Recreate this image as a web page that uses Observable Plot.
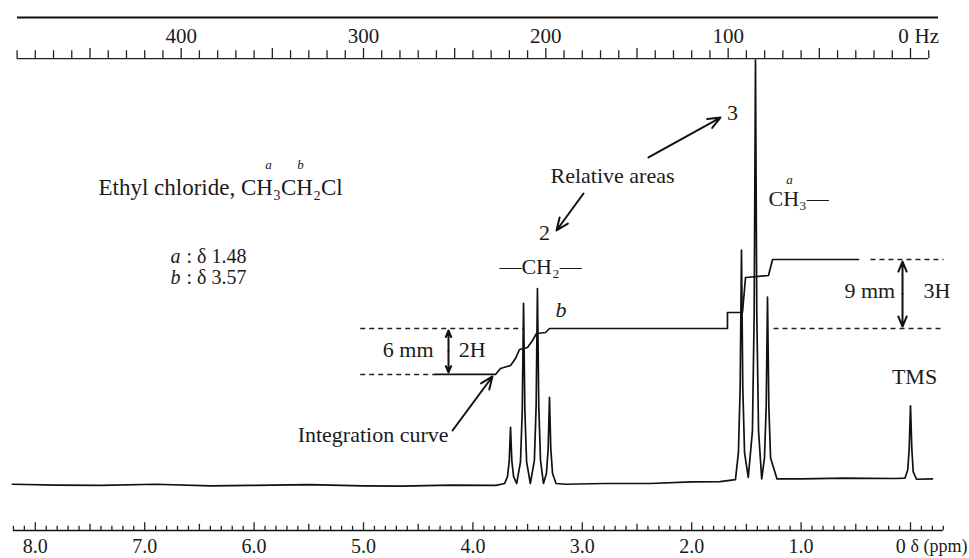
<!DOCTYPE html>
<html><head><meta charset="utf-8">
<script src="https://cdn.jsdelivr.net/npm/d3@7"></script>
<script src="https://cdn.jsdelivr.net/npm/@observablehq/plot@0.6"></script>
<style>body{margin:0;background:#fff}svg{display:block}</style>
</head><body><div id="chart"></div>
<script>
// ---- data (x in ppm, y in chart-mm above baseline) ----
const trace = [
  [8.21,-0.1],[7.8,-0.2],[7.4,-0.25],[6.9,-0.1],[6.4,-0.3],[6.03,-0.25],[5.5,-0.15],[5.0,-0.3],[4.66,-0.35],[4.2,-0.2],[3.79,-0.25],
  [3.71,0],[3.684,0.9],[3.668,2.9],[3.656,7.3],[3.644,2.9],[3.628,0.9],[3.60,0],
  [3.565,2.8],[3.549,9.4],[3.537,23.4],[3.525,9.4],[3.509,2.8],[3.475,0],
  [3.438,3.0],[3.422,10.1],[3.41,25.3],[3.398,10.1],[3.382,3.0],[3.355,0],
  [3.328,1.3],[3.312,4.5],[3.30,11.2],[3.288,4.5],[3.272,1.3],[3.24,0],
  [3.15,-0.1],[2.8,0.0],[2.38,0.0],[2.0,0.2],[1.74,0.25],[1.60,0.5],
  [1.573,4.0],[1.557,12.5],[1.545,30.3],[1.533,12.5],[1.517,4.0],[1.483,0.8],
  [1.445,6.8],[1.429,22.0],[1.417,55.0],[1.405,22.0],[1.389,6.8],[1.36,0.6],
  [1.335,3.3],[1.319,10.0],[1.307,24.2],[1.295,10.0],[1.279,3.3],[1.22,0.6],
  [1.0,0.6],[0.6,0.7],[0.14,0.65],
  [0.05,0.7],[0.025,1.8],[0.012,4.5],[0.0,10.1],[-0.012,4.5],[-0.025,1.5],[-0.055,0.55],[-0.20,0.6]
];
const integral = [
  [4.342,14.16],[3.793,14.16],[3.748,14.94],[3.656,15.32],[3.611,16.23],[3.574,17.40],[3.501,17.66],
  [3.455,18.57],[3.419,19.48],[3.336,19.61],[3.300,20.13],[1.673,20.13],[1.673,22.21],[1.536,22.21],
  [1.508,26.75],[1.298,27.01],[1.261,29.09],[0.475,29.09]
];
const guideFrom = [5.03, 5.03, 1.252, 0.366];
const guideTo   = [3.537, 4.342, -0.302, -0.302];
const guideLevel = [20.13, 14.16, 20.13, 29.09];
const hzLabels = [400, 300, 200, 100];
const ppmLabels = [8, 7, 6, 5, 4, 3, 2, 1];
const MHZ = 60;

// ---- scales: ppm -> px, mm -> px ----
const W = 969, H = 558;
const xs = {type: "linear", domain: [910 / 109.4, -59 / 109.4], range: [0, W], axis: null};
const ys = {type: "linear", domain: [-75 / 7.7, 483 / 7.7], range: [H, 0], axis: null};

const hzTicks = d3.range(-10, 491, 10);
const ppmTicks = d3.range(-3, 83).map(d => d / 10);
const F = "Liberation Serif, DejaVu Serif, serif";
const T = {fontFamily: F, fontSize: 22, fill: "#1b1b1b"};
const L = {fontFamily: F, fontSize: 23, fill: "#1b1b1b"};
const A = {fontFamily: F, fontSize: 21, fill: "#1b1b1b"};

const guides = guideLevel.map((v, i) => ({x1: guideFrom[i], x2: guideTo[i], y: v}));

const plot = Plot.plot({
  width: W, height: H, margin: 0,
  x: xs, y: ys,
  marks: [
    // top Hz ruler
    Plot.ruleY([60.52], {x1: 8.163, x2: -0.256, strokeWidth: 2.2, stroke: "#111"}),
    Plot.ruleY([55.19], {x1: 490 / MHZ, x2: -10 / MHZ, strokeWidth: 1.3, stroke: "#222"}),
    Plot.ruleX(hzTicks, {x: d => d / MHZ, y1: 55.19, y2: d => d % 50 === 0 ? 56.5 : 56.2, strokeWidth: 1.3, stroke: "#222"}),
    Plot.text(hzLabels, {x: d => d / MHZ, y: 58.1, text: d => String(d), ...A}),
    Plot.text([0], {x: 0.064, y: 58.1, text: d => "0", ...A}),
    Plot.text(["Hz"], {x: -0.037, y: 58.1, text: d => d, textAnchor: "start", ...A}),
    // bottom ppm ruler
    Plot.ruleY([-6.104], {x1: 8.2, x2: -0.3, strokeWidth: 1.6, stroke: "#111"}),
    Plot.ruleX(ppmTicks, {x: d => d, y1: -6.104, y2: d => Math.abs(d * 10 % 10) < 1e-6 ? -5.1 : (Math.abs(d * 10 % 5) < 1e-6 ? -5.3 : -5.55), strokeWidth: 1.3, stroke: "#222"}),
    Plot.text(ppmLabels, {x: d => d, y: -8.15, text: d => d.toFixed(1), ...A, fontSize: 20}),
    Plot.text([0], {x: 0.09, y: -8.15, text: d => "0", ...A, fontSize: 20}),
    Plot.text(["δ (ppm)"], {x: 0.0, y: -8.15, text: d => d, textAnchor: "start", ...A, fontSize: 18}),
    // guides
    Plot.link(guides, {x1: "x1", x2: "x2", y1: "y", y2: "y", stroke: "#222", strokeWidth: 1.4, strokeDasharray: "5,4"}),
    // spectrum & integral
    Plot.line(trace, {x: d => d[0], y: d => d[1], stroke: "#111", strokeWidth: 1.7, curve: "linear"}),
    Plot.line(integral, {x: d => d[0], y: d => d[1], stroke: "#111", strokeWidth: 1.7}),
    // arrows
    Plot.arrow([
      {x1: 2.395, y1: 42.34, x2: 1.737, y2: 47.53},
      {x1: 2.989, y1: 37.66, x2: 3.236, y2: 32.86},
      {x1: 4.186, y1: 6.88, x2: 3.821, y2: 13.9},
      {x1: 4.223, y1: 17.1, x2: 4.223, y2: 19.87},
      {x1: 4.223, y1: 17.1, x2: 4.223, y2: 14.42},
      {x1: 0.073, y1: 24.6, x2: 0.073, y2: 28.83},
      {x1: 0.073, y1: 24.6, x2: 0.073, y2: 20.39}
    ], {x1: "x1", y1: "y1", x2: "x2", y2: "y2", stroke: "#111", strokeWidth: 2, headLength: 10, headAngle: 45}),
    // annotations
    Plot.text(["Ethyl chloride, CH₃CH₂Cl"], {x: 7.422, y: 38.44, text: d => d, textAnchor: "start", ...L}),
    Plot.text(["a", "b"], {x: [5.868, 5.576], y: 41.4, text: d => d, ...L, fontSize: 13, fontStyle: "italic"}),
    Plot.text(["a", "b"], {x: 6.764, y: [29.48, 26.75], text: d => d, textAnchor: "start", ...L, fontSize: 20, fontStyle: "italic"}),
    Plot.text([": δ 1.48", ": δ 3.57"], {x: 6.618, y: [29.48, 26.75], text: d => d, textAnchor: "start", ...L, fontSize: 20}),
    Plot.text(["Relative areas"], {x: 2.724, y: 40.0, text: d => d, ...T}),
    Plot.text(["3"], {x: 1.627, y: 48.18, text: d => d, ...T}),
    Plot.text(["2"], {x: 3.345, y: 32.6, text: d => d, ...T}),
    Plot.text(["—CH₂—"], {x: 3.382, y: 28.18, text: d => d, ...T}),
    Plot.text(["b"], {x: 3.245, y: 22.5, text: d => d, textAnchor: "start", ...T, fontStyle: "italic"}),
    Plot.text(["CH₃—"], {x: 1.298, y: 37.01, text: d => d, textAnchor: "start", ...T}),
    Plot.text(["a"], {x: 1.106, y: 39.4, text: d => d, ...T, fontSize: 13, fontStyle: "italic"}),
    Plot.text(["6 mm"], {x: 4.36, y: 17.3, text: d => d, textAnchor: "end", ...T}),
    Plot.text(["2H"], {x: 4.13, y: 17.3, text: d => d, textAnchor: "start", ...T}),
    Plot.text(["9 mm"], {x: 0.14, y: 25.06, text: d => d, textAnchor: "end", ...T}),
    Plot.text(["3H"], {x: -0.119, y: 25.06, text: d => d, textAnchor: "start", ...T}),
    Plot.text(["Integration curve"], {x: 4.223, y: 6.36, text: d => d, textAnchor: "end", ...T}),
    Plot.text(["TMS"], {x: -0.037, y: 13.8, text: d => d, ...T})
  ]
});
document.getElementById("chart").appendChild(plot);
</script>
</body></html>
